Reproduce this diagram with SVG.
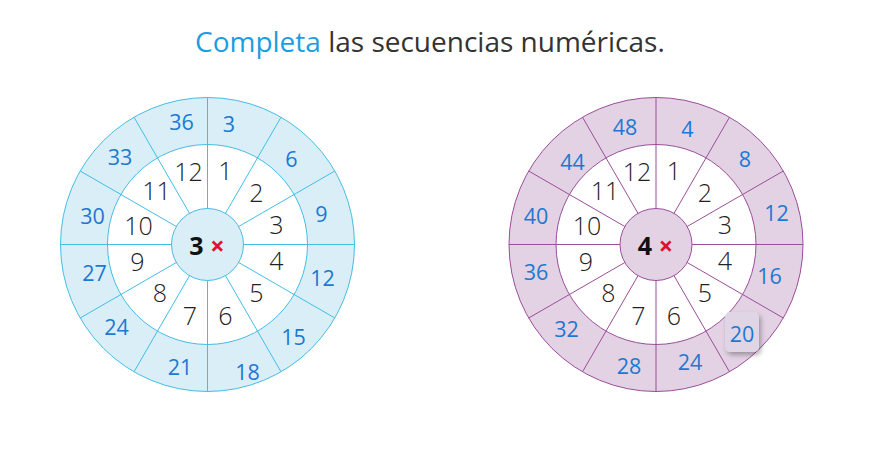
<svg xmlns="http://www.w3.org/2000/svg" width="895" height="460" viewBox="0 0 895 460">
<style>
text{font-family:"Open Sans","Noto Sans","Liberation Sans",sans-serif;text-anchor:middle;dominant-baseline:central;stroke:none}
.title{font-size:28px;fill:#333;text-anchor:start;dominant-baseline:auto}
.hl{fill:#1b9ee0}
.mid{font-size:25px;font-weight:300;fill:#222}
.out{font-size:21.5px;fill:#1d78d2}
.ctr{font-size:25px;font-weight:700;fill:#111}
.x{font-size:25px;font-weight:700;fill:#e0102e}
.b .ring{fill:#d9eef7;stroke:#44bde6;stroke-width:1}
.b .white{fill:#fff;stroke:#44bde6;stroke-width:1}
.b .spk{stroke:#44bde6;stroke-width:1}
.p .ring{fill:#e2d2e4;stroke:#9b4d9b;stroke-width:1}
.p .white{fill:#fff;stroke:#9b4d9b;stroke-width:1}
.p .spk{stroke:#9b4d9b;stroke-width:1}
</style>
<defs>
<filter id="sh" x="-30%" y="-30%" width="170%" height="170%">
<feDropShadow dx="2" dy="3" stdDeviation="2.5" flood-color="#000" flood-opacity="0.3"/>
</filter>
<g id="spokes">
<line x1="0" y1="-36" x2="0" y2="-147"/>
<line x1="18" y1="-31.18" x2="73.5" y2="-127.31"/>
<line x1="31.18" y1="-18" x2="127.31" y2="-73.5"/>
<line x1="36" y1="0" x2="147" y2="0"/>
<line x1="31.18" y1="18" x2="127.31" y2="73.5"/>
<line x1="18" y1="31.18" x2="73.5" y2="127.31"/>
<line x1="0" y1="36" x2="0" y2="147"/>
<line x1="-18" y1="31.18" x2="-73.5" y2="127.31"/>
<line x1="-31.18" y1="18" x2="-127.31" y2="73.5"/>
<line x1="-36" y1="0" x2="-147" y2="0"/>
<line x1="-31.18" y1="-18" x2="-127.31" y2="-73.5"/>
<line x1="-18" y1="-31.18" x2="-73.5" y2="-127.31"/>
</g>
<g id="midnums" class="mid">
<text x="18" y="-74.5">1</text>
<text x="49" y="-53">2</text>
<text x="69" y="-21">3</text>
<text x="69" y="15.5">4</text>
<text x="49" y="47">5</text>
<text x="18" y="70.5">6</text>
<text x="-17.5" y="70.5">7</text>
<text x="-47.5" y="47">8</text>
<text x="-70" y="16">9</text>
<text x="-69" y="-19.5">10</text>
<text x="-51" y="-54.5">11</text>
<text x="-19" y="-74">12</text>
</g>
</defs>

<g id="title">
<text class="title" x="195" y="52"><tspan class="hl">Completa</tspan> las secuencias numéricas.</text>
</g>

<g id="wheel3" class="b" transform="translate(207.5,244.5)">
<circle class="ring" r="147"/>
<circle class="white" r="100"/>
<circle class="ring" r="36"/>
<use class="spk" href="#spokes"/>
<use href="#midnums"/>
<g class="out">
<text x="21.5" y="-121">3</text>
<text x="84" y="-86">6</text>
<text x="114" y="-31">9</text>
<text x="115" y="33">12</text>
<text x="86" y="91.5">15</text>
<text x="40" y="126.5">18</text>
<text x="-27.5" y="122">21</text>
<text x="-91" y="81.5">24</text>
<text x="-113" y="28">27</text>
<text x="-115" y="-29.5">30</text>
<text x="-87.5" y="-88.5">33</text>
<text x="-26" y="-123.5">36</text>
</g>
<text class="ctr" x="-11" y="0.5">3</text>
<text class="x" x="10" y="0.5">×</text>
</g>

<g id="wheel4" class="p" transform="translate(656,244.5)">
<circle class="ring" r="147"/>
<circle class="white" r="100"/>
<circle class="ring" r="36"/>
<use class="spk" href="#spokes"/>
<use href="#midnums"/>
<rect x="69" y="67.5" width="34" height="40" rx="5" fill="#e0d5e5" filter="url(#sh)"/>
<g class="out">
<text x="31.5" y="-116">4</text>
<text x="89" y="-86">8</text>
<text x="120.5" y="-32">12</text>
<text x="113.5" y="30.5">16</text>
<text x="86" y="88.5">20</text>
<text x="34" y="117">24</text>
<text x="-27" y="120.5">28</text>
<text x="-89.5" y="84">32</text>
<text x="-120" y="27">36</text>
<text x="-120" y="-29.5">40</text>
<text x="-83.5" y="-83">44</text>
<text x="-31" y="-118">48</text>
</g>
<text class="ctr" x="-11" y="0.5">4</text>
<text class="x" x="10" y="0.5">×</text>
</g>
</svg>
